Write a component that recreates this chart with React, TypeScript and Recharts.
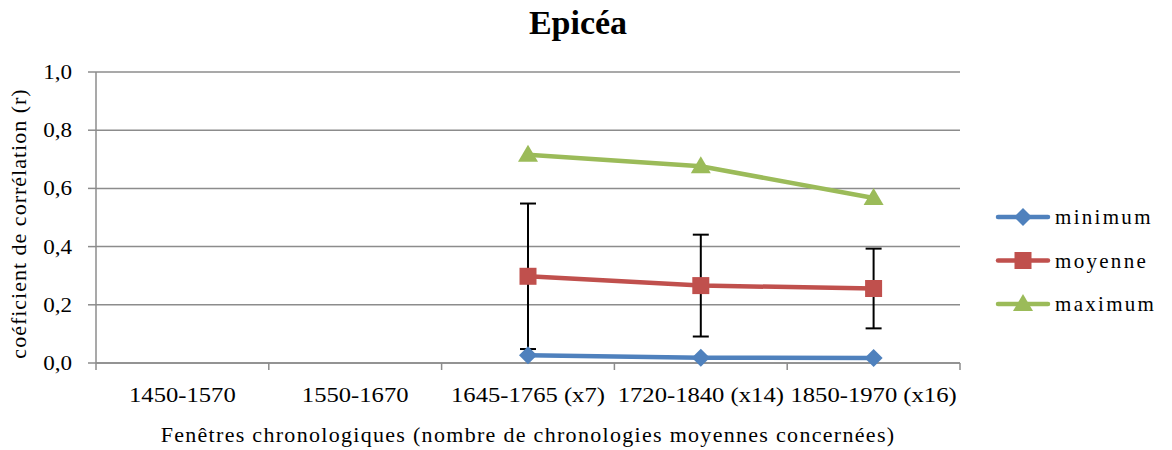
import React from 'react';
import { LineChart, Line, XAxis, YAxis, CartesianGrid, ErrorBar } from 'recharts';

const categories = [
  '1450-1570',
  '1550-1670',
  '1645-1765 (x7)',
  '1720-1840 (x14)',
  '1850-1970 (x16)',
];
const minimum = [null, null, 0.027, 0.018, 0.017];
const moyenne = [null, null, 0.298, 0.266, 0.256];
const moyenneErr = [null, null, 0.25, 0.175, 0.137];
const maximum = [null, null, 0.716, 0.676, 0.567];
const yTicks = [0, 0.2, 0.4, 0.6, 0.8, 1.0];

const data = categories.map((c, i) => ({
  cat: c,
  minimum: minimum[i],
  moyenne: moyenne[i],
  err: moyenneErr[i],
  maximum: maximum[i],
}));

const W = 1172;
const H = 450;
const M = { top: 72, right: 212, left: 0, bottom: 0 };
const Y_W = 96;
const PLOT_W = W - M.left - M.right - Y_W;
const BAND = PLOT_W / categories.length;

const FONT = '"Liberation Serif", "Times New Roman", serif';
const BLUE = '#4F81BD';
const RED = '#C0504D';
const GREEN = '#9BBB59';
const GRID = '#8c8c8c';

const Diamond = ({ cx, cy, fill }: any) => (
  <polygon points={`${cx},${cy - 9} ${cx + 9},${cy} ${cx},${cy + 9} ${cx - 9},${cy}`} fill={fill} />
);
const Square = ({ cx, cy, fill }: any) => (
  <rect x={cx - 8.5} y={cy - 8.5} width={17} height={17} fill={fill} />
);
const Triangle = ({ cx, cy, fill }: any) => (
  <polygon points={`${cx},${cy - 10} ${cx + 10},${cy + 7} ${cx - 10},${cy + 7}`} fill={fill} />
);

const makeDot = (Shape: any, fill: string) => (props: any) => {
  if (props.value == null || props.cx == null) return <g key={props.index} />;
  return <Shape key={props.index} cx={props.cx} cy={props.cy} fill={fill} />;
};

const XTick = ({ x, y, payload, index }: any) => {
  const last = index === categories.length - 1;
  return (
    <g>
      <line x1={x - BAND / 2} x2={x - BAND / 2} y1={y} y2={y + 7} stroke={GRID} strokeWidth={1.5} />
      {last && <line x1={x + BAND / 2} x2={x + BAND / 2} y1={y} y2={y + 7} stroke={GRID} strokeWidth={1.5} />}
      <g transform={`translate(${x},${y + 39})`}>
        <text transform="scale(1.12,1)" textAnchor="middle" fontFamily={FONT} fontSize={22} fill="#000">
          {payload.value}
        </text>
      </g>
    </g>
  );
};

const YTick = ({ x, y, payload }: any) => (
  <g transform={`translate(${x},${y + 7})`}>
    <text transform="scale(1.05,1)" textAnchor="end" fontFamily={FONT} fontSize={22} fill="#000">
      {payload.value.toFixed(1).replace('.', ',')}
    </text>
  </g>
);

const YLabel = ({ viewBox }: any) => {
  const cx = 26;
  const cy = viewBox.y + viewBox.height / 2 + 6;
  return (
    <text
      x={cx}
      y={cy}
      transform={`rotate(-90, ${cx}, ${cy})`}
      textAnchor="middle"
      fontFamily={FONT}
      fontSize={22}
      letterSpacing={1}
      fill="#000"
    >
      coéficient de corrélation (r)
    </text>
  );
};

const XLabel = ({ viewBox }: any) => (
  <text
    x={viewBox.x + viewBox.width / 2}
    y={viewBox.y + 79}
    textAnchor="middle"
    fontFamily={FONT}
    fontSize={22}
    letterSpacing={1.3}
    fill="#000"
  >
    Fenêtres chronologiques (nombre de chronologies  moyennes concernées)
  </text>
);

const legendItems = [
  { name: 'minimum', color: BLUE, Shape: Diamond },
  { name: 'moyenne', color: RED, Shape: Square },
  { name: 'maximum', color: GREEN, Shape: Triangle },
];

const LegendBox = () => (
  <svg
    width={180}
    height={130}
    style={{ position: 'absolute', left: 992, top: 195 }}
  >
    {legendItems.map((it, i) => {
      const y = 22 + i * 43.5;
      return (
        <g key={it.name}>
          <line x1={6} x2={56} y1={y} y2={y} stroke={it.color} strokeWidth={4.5} strokeLinecap="round" />
          <it.Shape cx={31} cy={y} fill={it.color} />
          <text x={63} y={y + 7} fontFamily={FONT} fontSize={21} letterSpacing={2.3} fill="#000">
            {it.name}
          </text>
        </g>
      );
    })}
  </svg>
);

export default function App() {
  return (
    <div style={{ position: 'absolute', left: 0, top: 0, width: W, height: H, background: '#fff' }}>
      <div
        style={{
          position: 'absolute',
          left: 0,
          top: 3,
          width: 1156,
          textAlign: 'center',
          fontFamily: FONT,
          fontWeight: 'bold',
          fontSize: 34,
          lineHeight: '40px',
        }}
      >
        Epicéa
      </div>
      <LineChart width={W} height={H} data={data} margin={M}>
        <CartesianGrid vertical={false} stroke={GRID} strokeWidth={1.5} />
        <XAxis
          dataKey="cat"
          type="category"
          scale="band"
          tickLine={false}
          tickSize={0}
          tickMargin={0}
          height={87}
          axisLine={{ stroke: GRID, strokeWidth: 1.5 }}
          tick={<XTick />}
          interval={0}
          label={<XLabel />}
        />
        <YAxis
          width={Y_W}
          domain={[0, 1]}
          ticks={yTicks}
          interval={0}
          tickSize={8}
          tickMargin={16}
          tickLine={{ stroke: GRID, strokeWidth: 1.5 }}
          axisLine={{ stroke: GRID, strokeWidth: 1.5 }}
          tick={<YTick />}
          label={<YLabel />}
        />
        <Line
          dataKey="moyenne"
          stroke={RED}
          strokeWidth={4.5}
          dot={makeDot(Square, RED)}
          activeDot={false}
          isAnimationActive={false}
        >
          <ErrorBar dataKey="err" direction="y" width={8} stroke="#000" strokeWidth={2} />
        </Line>
        <Line
          dataKey="minimum"
          stroke={BLUE}
          strokeWidth={4.5}
          dot={makeDot(Diamond, BLUE)}
          activeDot={false}
          isAnimationActive={false}
        />
        <Line
          dataKey="maximum"
          stroke={GREEN}
          strokeWidth={4.5}
          dot={makeDot(Triangle, GREEN)}
          activeDot={false}
          isAnimationActive={false}
        />
      </LineChart>
      <LegendBox />
    </div>
  );
}
